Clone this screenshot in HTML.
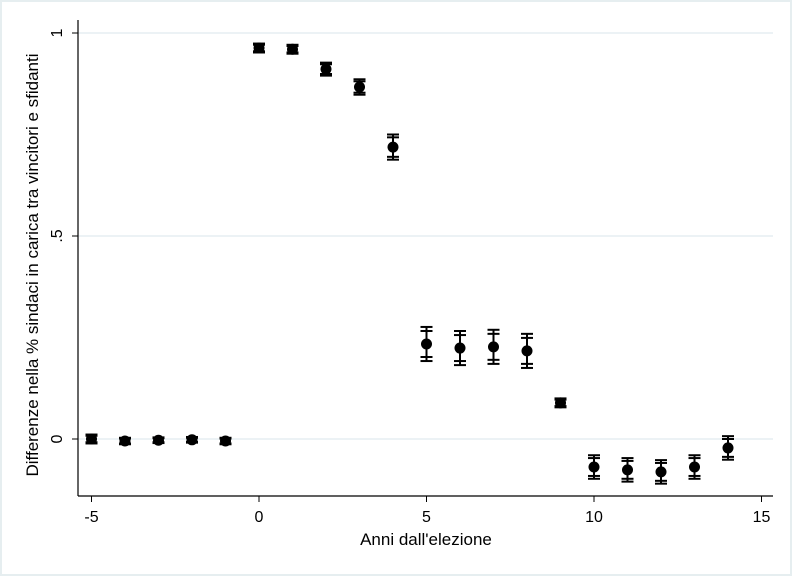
<!DOCTYPE html>
<html><head><meta charset="utf-8"><style>
body{margin:0;background:#fff}
svg{display:block;font-family:"Liberation Sans",Arial,sans-serif}
</style></head><body>
<svg id="chart" width="792" height="576" viewBox="0 0 792 576">
<rect x="1" y="1" width="790" height="574" fill="#fff" stroke="#e6eef0" stroke-width="2"/>
<g id="grid"></g>
<g id="axes"></g>
<g id="marks"></g>
<text x="426" y="545" text-anchor="middle" font-size="17">Anni dall'elezione</text>
<text transform="translate(38,265) rotate(-90)" text-anchor="middle" font-size="17">Differenze nella % sindaci in carica tra vincitori e sfidanti</text>
</svg>
<script>
const years=[-5,-4,-3,-2,-1,0,1,2,3,4,5,6,7,8,9,10,11,12,13,14];
const estimates=[0.0,-0.005,-0.003,-0.002,-0.005,0.963,0.96,0.911,0.867,0.719,0.234,0.224,0.227,0.217,0.089,-0.069,-0.076,-0.081,-0.069,-0.022];
const ciInner=[0.008,0.006,0.005,0.005,0.006,0.008,0.008,0.012,0.014,0.024,0.032,0.032,0.032,0.032,0.008,0.022,0.022,0.022,0.022,0.022];
const ciOuter=[0.011,0.008,0.007,0.007,0.008,0.011,0.011,0.016,0.019,0.031,0.042,0.042,0.042,0.042,0.011,0.029,0.029,0.029,0.029,0.029];
const xTicks=[-5,0,5,10,15];
const yTicks=[0,0.5,1];
const yTickLabels=["0",".5","1"];
const NS="http://www.w3.org/2000/svg";
const X=v=>259+(v)*33.5;
const Y=v=>439-v*406;
function mk(tag,attrs,parent){const e=document.createElementNS(NS,tag);for(const k in attrs)e.setAttribute(k,attrs[k]);parent.appendChild(e);return e;}
const grid=document.getElementById('grid'),axes=document.getElementById('axes'),marks=document.getElementById('marks');
yTicks.forEach((t,i)=>{
 const g=mk('line',{x1:78,x2:773,y1:Y(t),y2:Y(t),stroke:'#e6eef2','stroke-width':1.5},grid);
 
 
 const tk=mk('line',{x1:72,x2:78,y1:Y(t),y2:Y(t),stroke:'#000'},axes);
 
 
 const tx=mk('text',{transform:`translate(62,${Y(t)}) rotate(-90)`,'text-anchor':'middle','font-size':16},axes);
 tx.textContent=yTickLabels[i];
 
 
});
const ya=mk('line',{x1:78,x2:78,y1:20,y2:496,stroke:'#000','stroke-width':1.2},axes);


const xa=mk('line',{x1:78,x2:773,y1:496,y2:496,stroke:'#000','stroke-width':1.2},axes);


xTicks.forEach(t=>{
 const tk=mk('line',{x1:X(t),x2:X(t),y1:496,y2:502,stroke:'#000'},axes);
 
 
 const tx=mk('text',{x:X(t),y:522,'text-anchor':'middle','font-size':16},axes);
 tx.textContent=String(t);
 
 
});
years.forEach((yr,i)=>{
 const g=mk('g',{},marks);
 
 
 const cx=X(yr),e=estimates[i];
 mk('line',{x1:cx,x2:cx,y1:Y(e+ciOuter[i]),y2:Y(e-ciOuter[i]),stroke:'#000','stroke-width':2},g);
 [ciInner[i],ciOuter[i]].forEach(c=>{
  [e+c,e-c].forEach(v=>mk('line',{x1:cx-6,x2:cx+6,y1:Y(v),y2:Y(v),stroke:'#000','stroke-width':2},g));
 });
 mk('circle',{cx:cx,cy:Y(e),r:5.5,fill:'#000'},g);
});
</script>
</body></html>
